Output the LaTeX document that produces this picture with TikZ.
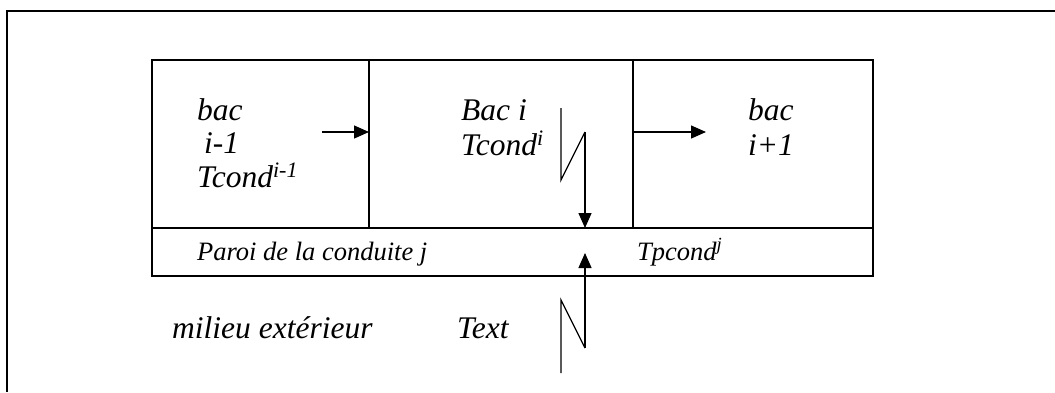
\documentclass[tikz,border=0pt]{standalone}
\usepackage{fontspec}
\setmainfont{Liberation Serif}
\usetikzlibrary{arrows.meta}
\begin{document}
\begin{tikzpicture}[x=1pt,y=-1pt,
  frame/.style={line width=2pt},
  boxline/.style={line width=1.6pt},
  flow/.style={line width=1.3pt,-{Triangle[length=15pt,width=13pt]}},
  zig/.style={line width=1.3pt},
  bigtxt/.style={anchor=base west,inner sep=0pt,font=\fontsize{31.5}{36}\selectfont\itshape},
  smalltxt/.style={anchor=base west,inner sep=0pt,font=\fontsize{26.5}{30}\selectfont\itshape}]
\useasboundingbox (0,0) rectangle (1055,392);
% outer frame (only top and left visible)
\draw[frame] (1055,11) -- (7,11) -- (7,392);
% boxes
\coordinate (tl) at (152,60);
\coordinate (br) at (873,228);
\draw[boxline] (tl) rectangle (br);
\draw[boxline] (369,60) -- (369,228);
\draw[boxline] (633,60) -- (633,228);
\draw[boxline] (152,228) rectangle (873,276);
% texts
\node[bigtxt] (b1a) at (197,120) {bac};
\node[bigtxt] (b1b) at (204,153) {i-1};
\node[bigtxt] (b1c) at (197,187) {Tcond\textsuperscript{i-1}};
\node[bigtxt] (b2a) at (461,120) {Bac i};
\node[bigtxt] (b2b) at (461,155) {Tcond\textsuperscript{i}};
\node[bigtxt] (b3a) at (748,120) {bac};
\node[bigtxt] (b3b) at (748,155) {i+1};
\node[smalltxt] (paroi) at (197,260) {Paroi de la conduite j};
\node[smalltxt] (tp) at (637,260) {Tpcond\textsuperscript{j}};
\node[bigtxt] (mil) at (172,338) {milieu extérieur};
\node[bigtxt] (text) at (457,338) {Text};
% horizontal arrows
\coordinate (a1s) at (322,132);
\coordinate (a1e) at (369,132);
\draw[flow] (a1s) -- (a1e);
\coordinate (a2s) at (633,132);
\coordinate (a2e) at (706,132);
\draw[flow] (a2s) -- (a2e);
% upper zigzag arrow
\coordinate (z1a) at (561,108);
\coordinate (z1b) at (561,180);
\coordinate (z1c) at (585,132);
\coordinate (z1d) at (585,228);
\draw[zig] (z1a) -- (z1b) -- (z1c);
\draw[flow] (z1c) -- (z1d);
% lower zigzag arrow
\coordinate (z2a) at (561,373);
\coordinate (z2b) at (561,300);
\coordinate (z2c) at (585,348);
\coordinate (z2d) at (585,253);
\draw[zig] (z2a) -- (z2b) -- (z2c);
\draw[flow] (z2c) -- (z2d);
\end{tikzpicture}
\end{document}
